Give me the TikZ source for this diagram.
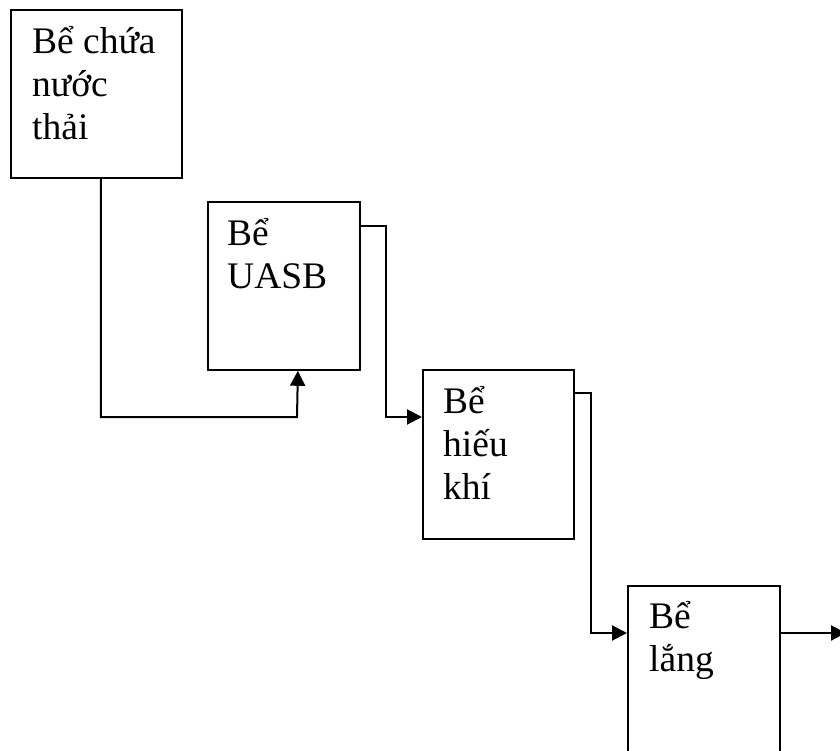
\documentclass[tikz,border=0pt]{standalone}
\usepackage{fontspec}
\setmainfont{Liberation Serif}
\usetikzlibrary{arrows.meta,calc}
\newcommand{\boxlines}[1]{\vtop{\baselineskip=43pt\lineskiplimit=-100pt #1}}
\tikzset{
  tank/.style={draw, line width=1.8pt, anchor=north west, inner sep=0pt},
  lbl/.style={anchor=base west, inner sep=0pt, font=\fontsize{37.5}{43}\selectfont},
  flow/.style={line width=2pt, -{Triangle[length=15pt,width=15pt]}},
  pipe/.style={line width=2pt}
}
\begin{document}
\begin{tikzpicture}[x=1pt,y=-1pt]
\useasboundingbox (0,0) rectangle (840,751);
\clip (0,0) rectangle (840,751);
\node[tank, minimum width=171pt, minimum height=168pt] (b1) at (10,9) {};
\node[tank, minimum width=152pt, minimum height=168pt] (b2) at (207,201) {};
\node[tank, minimum width=151pt, minimum height=169pt] (b3) at (422,369) {};
\node[tank, minimum width=152pt, minimum height=172pt] (b4) at (627,585) {};
\node[lbl] (t1) at (32,54) {\boxlines{\hbox{Bể chứa}\hbox{nước}\hbox{thải}}};
\node[lbl] (t2) at (227,246) {\boxlines{\hbox{Bể}\hbox{UASB}}};
\node[lbl] (t3) at (443,413) {\boxlines{\hbox{Bể}\hbox{hiếu}\hbox{khí}}};
\node[lbl] (t4) at (649,628) {\boxlines{\hbox{Bể}\hbox{lắng}}};
\coordinate (out) at (846,633);
\draw[flow] ($(b1.south)+(4.5,0)$) |- (297,417) -- ($(b2.south)+(14,0)$);
\draw[flow] ($(b2.north east)+(0,25)$) -| (386,417) -- ($(b3.north west)+(0,48)$);
\draw[flow] ($(b3.north east)+(0,24)$) -| (591,633) -- ($(b4.north west)+(0,48)$);
\draw[flow] ($(b4.north east)+(0,48)$) -- (out);
\end{tikzpicture}
\end{document}
